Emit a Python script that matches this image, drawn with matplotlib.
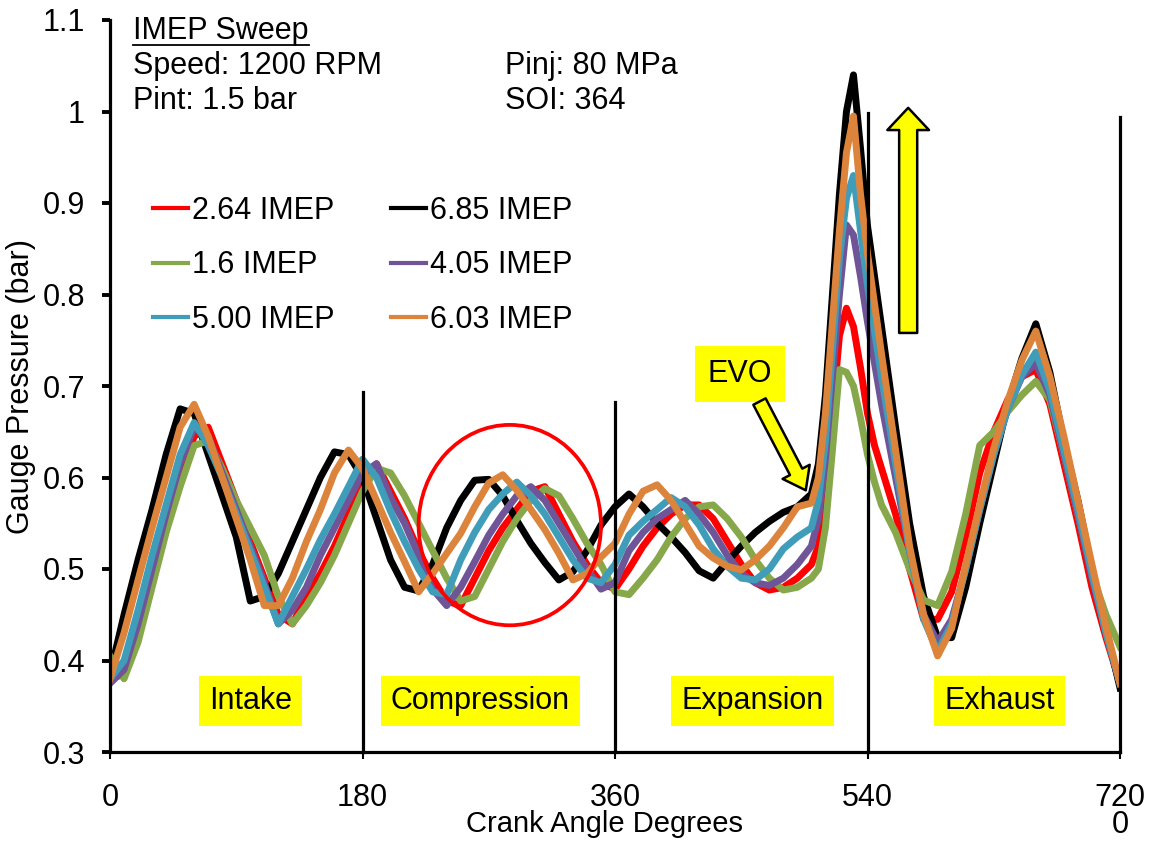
import matplotlib
matplotlib.use("Agg")
import matplotlib.pyplot as plt
from matplotlib.lines import Line2D
from matplotlib.patches import Ellipse
from matplotlib.transforms import IdentityTransform

plt.rcParams['font.family'] = ['Liberation Sans', 'DejaVu Sans']

# ---------------- data ----------------
crank = ([0, 10, 20, 30, 40, 50, 60, 70, 80, 90,
          100, 110, 120, 130, 140, 150, 160, 170, 180, 190,
          200, 210, 220, 230, 240, 250, 260, 270, 280, 290,
          300, 310, 320, 330, 340, 350, 360, 370, 380, 390,
          400, 410, 420, 430, 440, 450, 460, 470, 480, 490,
          500, 505, 510, 515, 520, 525, 530, 535, 540, 545,
          550, 560, 570, 580, 590, 600, 610, 620, 630, 640,
          650, 660, 670, 680, 690, 700, 710, 720])

imep_264 = [0.380, 0.385, 0.430, 0.490, 0.550, 0.600, 0.645, 0.655, 0.615, 0.575,
            0.530, 0.490, 0.450, 0.440, 0.470, 0.495, 0.525, 0.560, 0.595, 0.615,
            0.585, 0.555, 0.520, 0.490, 0.465, 0.460, 0.490, 0.520, 0.545, 0.565,
            0.585, 0.590, 0.560, 0.530, 0.505, 0.485, 0.478, 0.500, 0.525, 0.545,
            0.560, 0.570, 0.570, 0.555, 0.530, 0.505, 0.485, 0.477, 0.480, 0.490,
            0.505, 0.525, 0.580, 0.670, 0.755, 0.785, 0.765, 0.720, 0.670, 0.635,
            0.610, 0.560, 0.500, 0.445, 0.445, 0.475, 0.535, 0.605, 0.650, 0.685,
            0.710, 0.718, 0.680, 0.615, 0.550, 0.480, 0.425, 0.375]

imep_685 = [0.385, 0.450, 0.510, 0.565, 0.625, 0.675, 0.670, 0.625, 0.580, 0.535,
            0.465, 0.470, 0.495, 0.530, 0.565, 0.600, 0.628, 0.625, 0.600, 0.555,
            0.510, 0.480, 0.476, 0.505, 0.545, 0.575, 0.597, 0.598, 0.580, 0.553,
            0.528, 0.507, 0.488, 0.497, 0.520, 0.548, 0.568, 0.582, 0.568, 0.550,
            0.535, 0.518, 0.498, 0.490, 0.508, 0.525, 0.540, 0.552, 0.562, 0.568,
            0.582, 0.615, 0.690, 0.800, 0.910, 1.000, 1.040, 0.960, 0.875, 0.820,
            0.765, 0.655, 0.550, 0.470, 0.425, 0.425, 0.480, 0.550, 0.615, 0.680,
            0.730, 0.768, 0.715, 0.640, 0.575, 0.500, 0.435, 0.370]

imep_16 = [0.405, 0.380, 0.420, 0.480, 0.540, 0.590, 0.635, 0.640, 0.610, 0.575,
           0.545, 0.515, 0.470, 0.440, 0.460, 0.485, 0.515, 0.550, 0.585, 0.610,
           0.605, 0.580, 0.550, 0.520, 0.490, 0.465, 0.470, 0.500, 0.530, 0.555,
           0.575, 0.588, 0.580, 0.555, 0.528, 0.505, 0.475, 0.472, 0.490, 0.510,
           0.535, 0.555, 0.568, 0.570, 0.555, 0.535, 0.510, 0.490, 0.477, 0.480,
           0.490, 0.500, 0.545, 0.630, 0.718, 0.715, 0.700, 0.665, 0.625, 0.595,
           0.570, 0.540, 0.500, 0.466, 0.460, 0.497, 0.560, 0.635, 0.650, 0.672,
           0.690, 0.705, 0.685, 0.625, 0.560, 0.495, 0.450, 0.415]

imep_405 = [0.375, 0.390, 0.440, 0.500, 0.560, 0.615, 0.655, 0.645, 0.605, 0.565,
            0.525, 0.485, 0.440, 0.455, 0.480, 0.515, 0.545, 0.575, 0.605, 0.615,
            0.578, 0.550, 0.515, 0.478, 0.460, 0.480, 0.508, 0.537, 0.560, 0.580,
            0.590, 0.575, 0.550, 0.525, 0.500, 0.478, 0.485, 0.520, 0.540, 0.555,
            0.565, 0.575, 0.560, 0.540, 0.515, 0.495, 0.485, 0.482, 0.490, 0.505,
            0.525, 0.555, 0.620, 0.710, 0.800, 0.876, 0.865, 0.820, 0.770, 0.725,
            0.680, 0.600, 0.520, 0.450, 0.420, 0.445, 0.500, 0.565, 0.625, 0.675,
            0.710, 0.725, 0.690, 0.625, 0.560, 0.490, 0.430, 0.375]

imep_500 = [0.380, 0.400, 0.455, 0.515, 0.570, 0.625, 0.660, 0.635, 0.600, 0.560,
            0.520, 0.480, 0.440, 0.470, 0.500, 0.532, 0.560, 0.590, 0.620, 0.600,
            0.563, 0.530, 0.500, 0.475, 0.472, 0.510, 0.540, 0.565, 0.582, 0.595,
            0.580, 0.560, 0.535, 0.510, 0.490, 0.485, 0.505, 0.537, 0.552, 0.565,
            0.578, 0.568, 0.548, 0.522, 0.503, 0.490, 0.488, 0.500, 0.522, 0.535,
            0.545, 0.575, 0.640, 0.740, 0.840, 0.905, 0.930, 0.870, 0.810, 0.760,
            0.710, 0.615, 0.520, 0.445, 0.410, 0.440, 0.500, 0.565, 0.625, 0.675,
            0.712, 0.737, 0.695, 0.630, 0.565, 0.495, 0.430, 0.375]

imep_603 = [0.380, 0.430, 0.488, 0.545, 0.600, 0.655, 0.680, 0.645, 0.600, 0.555,
            0.510, 0.460, 0.460, 0.490, 0.530, 0.565, 0.605, 0.630, 0.610, 0.575,
            0.540, 0.508, 0.475, 0.495, 0.517, 0.539, 0.568, 0.594, 0.603, 0.586,
            0.565, 0.543, 0.517, 0.488, 0.495, 0.513, 0.528, 0.560, 0.585, 0.592,
            0.575, 0.550, 0.525, 0.512, 0.503, 0.499, 0.510, 0.525, 0.545, 0.568,
            0.572, 0.600, 0.670, 0.770, 0.870, 0.955, 0.995, 0.910, 0.845, 0.790,
            0.735, 0.630, 0.525, 0.450, 0.405, 0.435, 0.505, 0.570, 0.632, 0.684,
            0.728, 0.760, 0.710, 0.645, 0.575, 0.505, 0.437, 0.375]

series_labels = ["2.64 IMEP", "6.85 IMEP", "1.6 IMEP", "4.05 IMEP", "5.00 IMEP", "6.03 IMEP"]
series_values = [imep_264, imep_685, imep_16, imep_405, imep_500, imep_603]
series_colors = ["#FF0000", "#000000", "#86A84A", "#6F5597", "#3F9DBA", "#DC843C"]

phase_x = [180, 360, 540, 720]
phase_top = [0.693, 0.683, 0.998, 0.994]

phase_names = ["Intake", "Compression", "Expansion", "Exhaust"]
phase_label_x = [100, 264, 458, 634]
phase_label_y = 0.356

x_ticks = [0, 180, 360, 540, 720]
x_tick_labels = ["0", "180", "360", "540", "720\n0"]
y_ticks = [0.3, 0.4, 0.5, 0.6, 0.7, 0.8, 0.9, 1.0, 1.1]
y_tick_labels = ["0.3", "0.4", "0.5", "0.6", "0.7", "0.8", "0.9", "1", "1.1"]

# ---------------- figure ----------------
W, H = 1151, 843
fig = plt.figure(figsize=(W / 100, H / 100), dpi=100)
ax = fig.add_axes([110 / W, 1 - 752 / H, (1120 - 110) / W, (752 - 20) / H])
FS = 22

for vals, col in zip(series_values, series_colors):
    ax.plot(crank, vals, color=col, lw=5.0, solid_joinstyle='round')

for px, top in zip(phase_x, phase_top):
    ax.plot([px, px], [0.3, top], color='black', lw=2.3, clip_on=False, zorder=5)

ax.set_xlim(0, 720)
ax.set_ylim(0.3, 1.1)
for s in ['top', 'right']:
    ax.spines[s].set_visible(False)
for s in ['left', 'bottom']:
    ax.spines[s].set_linewidth(2.3)
    ax.spines[s].set_zorder(6)

ax.set_xticks(x_ticks)
ax.set_xticklabels(x_tick_labels, fontsize=FS)
for lab in ax.get_xticklabels():
    lab.set_linespacing(0.88)
ax.set_yticks(y_ticks)
ax.set_yticklabels(y_tick_labels, fontsize=FS)
ax.tick_params(axis='x', direction='out', length=5, width=1.5, pad=17)
ax.tick_params(axis='y', direction='out', length=6, width=2.8, pad=12)

ax.set_xlabel("Crank Angle Degrees", fontsize=21, va='center')
ax.xaxis.set_label_coords(0.49, -0.099)
ax.set_ylabel("Gauge Pressure (bar)", fontsize=FS, va='center', ha='center')
ax.yaxis.set_label_coords(-0.088, 0.5)

# phase labels
for name, px in zip(phase_names, phase_label_x):
    ax.text(px, phase_label_y, name, fontsize=FS, ha='center', va='center',
            bbox=dict(boxstyle='square,pad=0.33', fc='#FFFF00', ec='none'), zorder=7)

# header texts
t_title = fig.text(133 / W, 1 - 31 / H, "IMEP Sweep", fontsize=FS, va='center', ha='left')
fig.text(133 / W, 1 - 66 / H, "Speed: 1200 RPM", fontsize=FS, va='center', ha='left')
fig.text(133 / W, 1 - 101 / H, "Pint: 1.5 bar", fontsize=FS, va='center', ha='left')
fig.text(505 / W, 1 - 66 / H, "Pinj: 80 MPa", fontsize=FS, va='center', ha='left')
fig.text(505 / W, 1 - 101 / H, "SOI: 364", fontsize=FS, va='center', ha='left')

# legend (row-major visual order: red/black, green/purple, cyan/orange)
order = [0, 2, 4, 1, 3, 5]
handles = [Line2D([0], [0], color=series_colors[i], lw=3) for i in order]
labels = [series_labels[i] for i in order]
fig.legend(handles, labels, ncol=2, loc='upper left', frameon=False, fontsize=FS,
           bbox_to_anchor=(153 / W, 1 - 196 / H), bbox_transform=fig.transFigure,
           borderpad=0, borderaxespad=0, handlelength=1.15, handletextpad=0.12,
           columnspacing=1.85, labelspacing=0.8)

# EVO annotation
ax.text(449, 0.713, "EVO", fontsize=FS, ha='center', va='center',
        bbox=dict(boxstyle='square,pad=0.42', fc='#FFFF00', ec='none'), zorder=7)
ax.annotate("", xy=(496, 0.586), xytext=(463, 0.683),
            arrowprops=dict(arrowstyle='simple,head_length=0.75,head_width=1.1,tail_width=0.5',
                            mutation_scale=20, fc='#FFFF00', ec='black', lw=1.8,
                            shrinkA=0, shrinkB=0), zorder=8)

# big up arrow
ax.annotate("", xy=(569, 1.004), xytext=(569, 0.758),
            arrowprops=dict(arrowstyle='simple,head_length=0.8,head_width=1.5,tail_width=0.65',
                            mutation_scale=20, fc='#FFFF00', ec='black', lw=1.8,
                            shrinkA=0, shrinkB=0), zorder=8)

# red circle
ax.add_patch(Ellipse((285, 0.548), 130, 0.219, fill=False, ec='#FF0000', lw=2.7, zorder=9))

# underline title
fig.canvas.draw()
bb = t_title.get_window_extent()
fig.add_artist(Line2D([bb.x0, bb.x1], [bb.y0 + 1, bb.y0 + 1], color='black', lw=1.3,
                      transform=IdentityTransform()))

fig.savefig("out.png", dpi=100)
